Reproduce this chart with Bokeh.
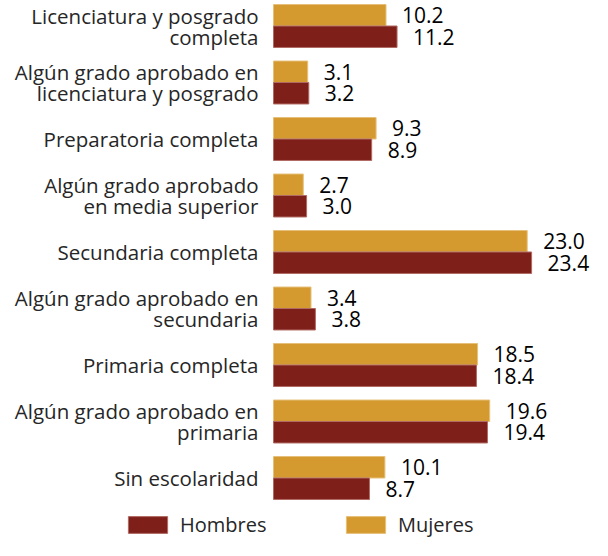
from bokeh.plotting import figure
from bokeh.models import ColumnDataSource, Range1d, Legend, LegendItem
from bokeh.transform import dodge
from bokeh.core.properties import value
from bokeh.embed import file_html
from bokeh.resources import INLINE

categories = [
    "Licenciatura y posgrado\ncompleta",
    "Algún grado aprobado en\nlicenciatura y posgrado",
    "Preparatoria completa",
    "Algún grado aprobado\nen media superior",
    "Secundaria completa",
    "Algún grado aprobado en\nsecundaria",
    "Primaria completa",
    "Algún grado aprobado en\nprimaria",
    "Sin escolaridad",
]
mujeres = [10.2, 3.1, 9.3, 2.7, 23.0, 3.4, 18.5, 19.6, 10.1]
hombres = [11.2, 3.2, 8.9, 3.0, 23.4, 3.8, 18.4, 19.4, 8.7]

C_H = "#7F1F1A"
C_M = "#D49A30"
FONT = "Open Sans"

src = ColumnDataSource(dict(
    cat=categories,
    idx=list(range(len(categories))),
    mujeres=mujeres,
    hombres=hombres,
    m_lbl=[f"{v:.1f}" for v in mujeres],
    h_lbl=[f"{v:.1f}" for v in hombres],
    zero=[0] * len(categories),
))

W, H = 592, 540
PX = 11.03  # pixels per unit
x0 = 273    # pixel of value 0
gap = 56.5
top = 25.5

p = figure(width=W, height=H, output_backend="svg", toolbar_location=None,
           x_range=Range1d(-x0 / PX, (W - x0) / PX),
           y_range=Range1d((H - top) / gap, -top / gap),
           min_border=0, outline_line_color=None)
p.axis.visible = False
p.grid.visible = False
p.background_fill_color = "white"

bh = 0.38
off = 0.19
rm = p.hbar(y=dodge("idx", -off), right="mujeres", left=0, height=bh, source=src,
            fill_color=C_M, line_color="#E6C07A", line_width=1)
rh = p.hbar(y=dodge("idx", off), right="hombres", left=0, height=bh, source=src,
            fill_color=C_H, line_color="#B06A63", line_width=1)

p.text(x="mujeres", y=dodge("idx", -off), text="m_lbl", source=src, x_offset=16,
       text_baseline="middle", text_align="left", text_font=value(FONT),
       text_font_size="21px", text_color="black")
p.text(x="hombres", y=dodge("idx", off), text="h_lbl", source=src, x_offset=16,
       text_baseline="middle", text_align="left", text_font=value(FONT),
       text_font_size="21px", text_color="black")

p.text(x="zero", y="idx", text="cat", source=src, x_offset=-15,
       text_baseline="middle", text_align="right", text_font=value(FONT),
       text_font_size="20.5px", text_color="#262626", text_line_height=0.75)

def mk_legend(label, r, x):
    return Legend(items=[LegendItem(label=label, renderers=[r])], location=(x, 2),
                  orientation="horizontal", glyph_width=49, glyph_height=21,
                  label_standoff=8, label_height=21, padding=0, margin=0,
                  spacing=0, border_line_color=None, background_fill_alpha=0,
                  label_text_font=FONT, label_text_font_size="20px",
                  label_text_color="#262626")

p.add_layout(mk_legend("Hombres", rh, 123), "center")
p.add_layout(mk_legend("Mujeres", rm, 341), "center")

open("out.html", "w").write(file_html(p, INLINE))
